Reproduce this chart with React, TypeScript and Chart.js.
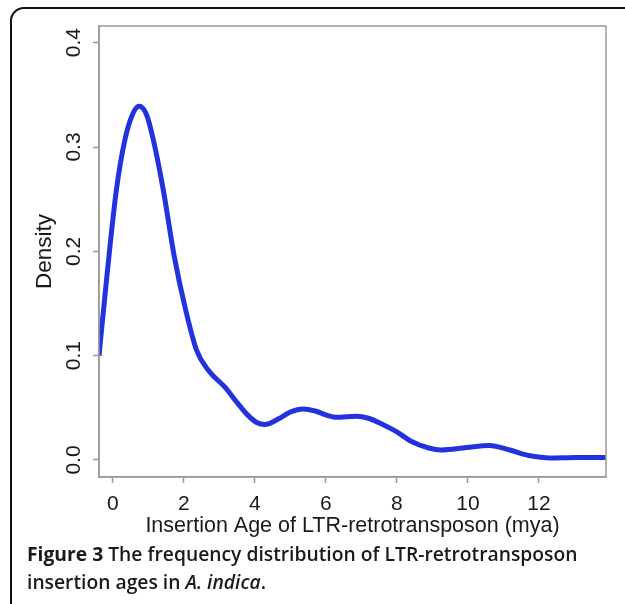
import React, { useEffect, useRef } from "react";
import { Chart, registerables } from "chart.js";

Chart.register(...registerables);

// Insertion age (mya) sampled along the density curve
const ages = [
  -0.39, -0.15, 0.1, 0.34, 0.55, 0.74, 0.95, 1.14, 1.42, 1.73, 2.05, 2.36, 2.69,
  3.15, 3.5, 3.8, 4.05, 4.28, 4.7, 5.0, 5.36, 5.7, 6.02, 6.3, 6.86, 7.2, 7.6,
  8.0, 8.4, 8.9, 9.25, 9.96, 10.6, 11.18, 11.75, 12.3, 13.06, 13.89,
];
// Density values at those ages
const density = [
  0.1, 0.182, 0.259, 0.307, 0.331, 0.339, 0.331, 0.307, 0.259, 0.195, 0.144,
  0.105, 0.086, 0.07, 0.055, 0.043, 0.036, 0.034, 0.04, 0.046, 0.049, 0.047,
  0.043, 0.041, 0.042, 0.04, 0.034, 0.027, 0.018, 0.0115, 0.0096, 0.012, 0.014,
  0.0096, 0.004, 0.002, 0.0025, 0.0025,
];
const xTicks = [0, 2, 4, 6, 8, 10, 12];
const yTicks = [0, 0.1, 0.2, 0.3, 0.4];
const xLabel = "Insertion Age of LTR-retrotransposon (mya)";
const yLabel = "Density";

const AXIS_GRAY = "#9a9a9a";
const TEXT = "#1a1a1a";
const FONT = "'Liberation Sans', Arial, sans-serif";

const framePlugin = {
  id: "frame",
  afterDatasetsDraw(chart: any) {
    const { ctx, chartArea } = chart;
    ctx.save();
    ctx.strokeStyle = AXIS_GRAY;
    ctx.lineWidth = 1.5;
    ctx.strokeRect(chartArea.left, chartArea.top, chartArea.right - chartArea.left, chartArea.bottom - chartArea.top);
    ctx.restore();
  },
};

export default function App() {
  const ref = useRef<HTMLCanvasElement | null>(null);

  useEffect(() => {
    if (!ref.current) return;
    const chart = new Chart(ref.current, {
      type: "line",
      data: {
        datasets: [
          {
            data: ages.map((a, i) => ({ x: a, y: density[i] })),
            borderColor: "#2233dd",
            borderWidth: 5,
            pointRadius: 0,
            cubicInterpolationMode: "monotone",
            fill: false,
          },
        ],
      },
      options: {
        animation: false,
        responsive: false,
        devicePixelRatio: 1,
        layout: { padding: { top: 26, right: 19, left: 0, bottom: 0 } },
        plugins: { legend: { display: false }, tooltip: { enabled: false } },
        scales: {
          x: {
            type: "linear",
            min: -0.39,
            max: 13.89,
            afterBuildTicks: (s: any) => {
              s.ticks = xTicks.map((v) => ({ value: v }));
            },
            afterFit: (s: any) => {
              s.height = 68;
            },
            grid: { drawOnChartArea: false, drawTicks: true, tickLength: 6, tickColor: AXIS_GRAY, tickWidth: 1.5 },
            border: { display: true, color: AXIS_GRAY, width: 1.5 },
            ticks: {
              color: TEXT,
              font: { family: FONT, size: 21 },
              padding: 9,
              maxRotation: 0,
              minRotation: 0,
              callback: (v: any) => String(v),
            },
            title: {
              display: true,
              text: xLabel,
              color: TEXT,
              font: { family: FONT, size: 21.5 },
              padding: { top: 0, bottom: 6 },
            },
          },
          y: {
            type: "linear",
            min: -0.0163,
            max: 0.416,
            afterBuildTicks: (s: any) => {
              s.ticks = yTicks.map((v) => ({ value: v }));
            },
            afterFit: (s: any) => {
              s.width = 99;
            },
            grid: { drawOnChartArea: false, drawTicks: true, tickLength: 6, tickColor: AXIS_GRAY, tickWidth: 1.5 },
            border: { display: true, color: AXIS_GRAY, width: 1.5 },
            ticks: {
              color: TEXT,
              font: { family: FONT, size: 21 },
              padding: 4,
              minRotation: 90,
              maxRotation: 90,
              crossAlign: "center",
              callback: (v: any) => Number(v).toFixed(1),
            },
            title: {
              display: true,
              text: yLabel,
              color: TEXT,
              font: { family: FONT, size: 22.5 },
              padding: { top: 31, bottom: 0 },
            },
          },
        },
      },
      plugins: [framePlugin],
    } as any);
    return () => chart.destroy();
  }, []);

  return (
    <div
      style={{
        position: "fixed",
        left: 0,
        top: 0,
        width: 625,
        height: 604,
        overflow: "hidden",
        background: "#fff",
      }}
    >
      <div
        style={{
          position: "absolute",
          left: 10,
          top: 7,
          width: 700,
          height: 700,
          border: "2px solid #111",
          borderRadius: 14,
          boxSizing: "border-box",
        }}
      />
      <canvas
        ref={ref}
        width={625}
        height={545}
        style={{ position: "absolute", left: 0, top: 0, width: 625, height: 545 }}
      />
      <div
        style={{
          position: "absolute",
          left: 27,
          top: 540,
          width: 598,
          whiteSpace: "nowrap",
          fontFamily: "'Open Sans', sans-serif",
          fontWeight: 600,
          fontSize: 19.3,
          lineHeight: "28px",
          color: "#1a1a1a",
        }}
      >
        <span style={{ fontWeight: 700 }}>Figure 3</span> The frequency distribution of LTR-retrotransposon
        <br />
        insertion ages in <i>A. indica</i>.
      </div>
    </div>
  );
}
